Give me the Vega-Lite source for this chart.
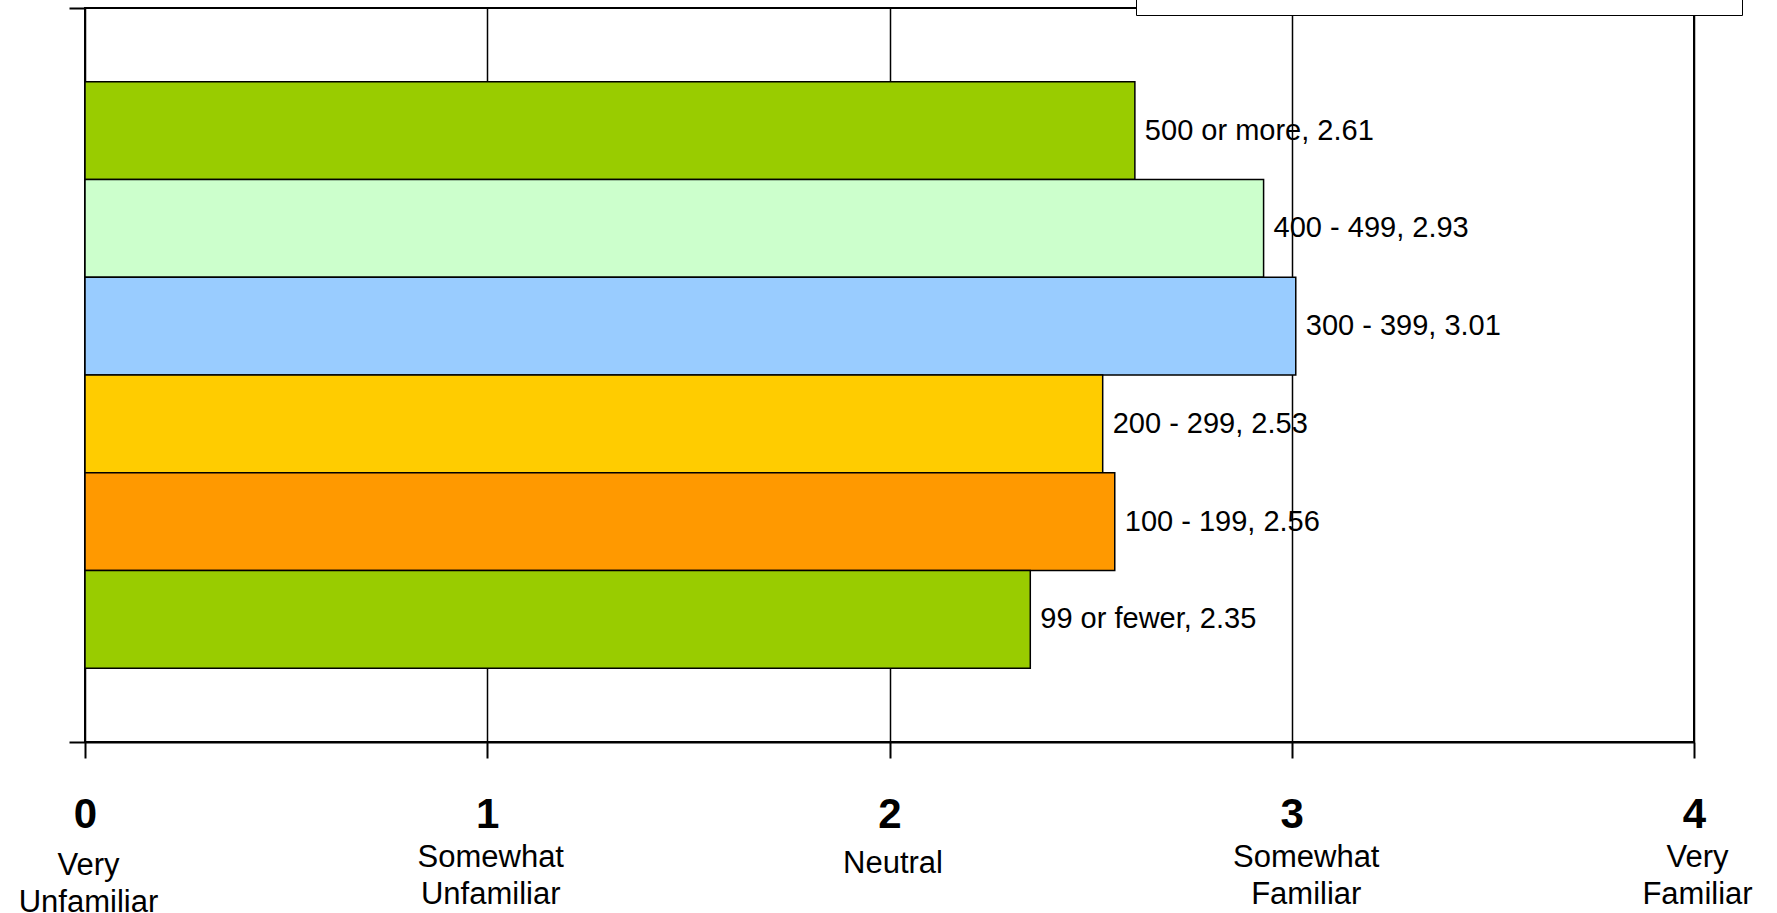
{
  "$schema": "https://vega.github.io/schema/vega-lite/v6.json",
  "autosize": {"type": "none"},
  "padding": {"left": 85, "top": 8, "right": 83, "bottom": 171},
  "width": 1609,
  "height": 734,
  "background": "white",
  "config": {"view": {"stroke": "black", "strokeWidth": 2}, "font": "Liberation Sans"},
  "data": {"values": [
    {"group": "500 or more", "value": 2.61, "label": "500 or more, 2.61"},
    {"group": "400 - 499", "value": 2.93, "label": "400 - 499, 2.93"},
    {"group": "300 - 399", "value": 3.01, "label": "300 - 399, 3.01"},
    {"group": "200 - 299", "value": 2.53, "label": "200 - 299, 2.53"},
    {"group": "100 - 199", "value": 2.56, "label": "100 - 199, 2.56"},
    {"group": "99 or fewer", "value": 2.35, "label": "99 or fewer, 2.35"}
  ]},
  "layer": [
    {
      "mark": {"type": "bar", "stroke": "black", "strokeWidth": 1.5},
      "encoding": {
        "y": {"field": "group", "type": "nominal", "sort": ["500 or more", "400 - 499", "300 - 399", "200 - 299", "100 - 199", "99 or fewer"], "scale": {"type": "band", "paddingInner": 0, "paddingOuter": 0.755}, "axis": null},
        "x": {"field": "value", "type": "quantitative", "scale": {"domain": [0, 4], "nice": false},
          "axis": {"values": [0, 1, 2, 3, 4], "title": null, "grid": true, "gridColor": "black", "gridWidth": 1.5, "gridOpacity": 1, "domainColor": "black", "domainWidth": 2, "tickColor": "black", "tickWidth": 2, "tickSize": 16, "labelFont": "Liberation Sans", "labelFontWeight": "bold", "labelFontSize": 42, "labelColor": "black", "labelPadding": 36, "labelFlush": false, "labelOverlap": false, "labelBaseline": "top", "format": "d"}},
        "color": {"field": "group", "type": "nominal",
          "scale": {"domain": ["500 or more", "400 - 499", "300 - 399", "200 - 299", "100 - 199", "99 or fewer"], "range": ["#99CC00", "#CCFFCC", "#99CCFF", "#FFCC00", "#FF9900", "#99CC00"]},
          "legend": {"orient": "none", "legendX": 1051, "legendY": -92, "direction": "horizontal", "columns": 6, "title": null, "fillColor": "white", "strokeColor": "black", "padding": 40, "columnPadding": 14, "gridAlign": "all", "labelFontSize": 10, "symbolSize": 200, "symbolType": "square", "symbolStrokeColor": "black"}}
      }
    },
    {
      "mark": {"type": "text", "align": "left", "baseline": "middle", "dx": 10, "fontSize": 29, "font": "Liberation Sans", "color": "black"},
      "encoding": {
        "y": {"field": "group", "type": "nominal", "sort": ["500 or more", "400 - 499", "300 - 399", "200 - 299", "100 - 199", "99 or fewer"], "scale": {"type": "band", "paddingInner": 0, "paddingOuter": 0.755}, "axis": null},
        "x": {"field": "value", "type": "quantitative",
          "axis": {"values": [0, 1, 2, 3, 4], "title": null, "grid": false, "domain": false, "ticks": false, "tickSize": 0, "orient": "bottom",
            "labelExpr": "datum.value == 0 ? split('Very|Unfamiliar', '|') : datum.value == 1 ? split('Somewhat|Unfamiliar', '|') : datum.value == 2 ? 'Neutral' : datum.value == 3 ? split('Somewhat|Familiar', '|') : split('Very|Familiar', '|')",
            "labelFont": "Liberation Sans", "labelFontSize": 31, "labelColor": "black",
            "labelPadding": {"condition": [{"test": "datum.value == 0", "value": 108}, {"test": "datum.value == 2", "value": 106}], "value": 100},
            "labelOffset": {"condition": [{"test": "datum.value == 0", "value": 3}, {"test": "datum.value == 3", "value": 14}], "value": 3},
            "labelLineHeight": 37, "labelFlush": false, "labelOverlap": false, "labelBaseline": "top"}},
        "text": {"field": "label"}
      }
    },
    {
      "mark": {"type": "rule", "opacity": 0},
      "encoding": {
        "y": {"datum": 0.5, "type": "quantitative", "scale": {"domain": [0, 1]},
          "axis": {"values": [0, 1], "orient": "left", "tickSize": 16, "tickColor": "black", "tickWidth": 2, "labels": false, "domain": false, "grid": false, "title": null}}
      }
    }
  ],
  "resolve": {"axis": {"x": "independent"}, "scale": {"y": "independent"}}
}
